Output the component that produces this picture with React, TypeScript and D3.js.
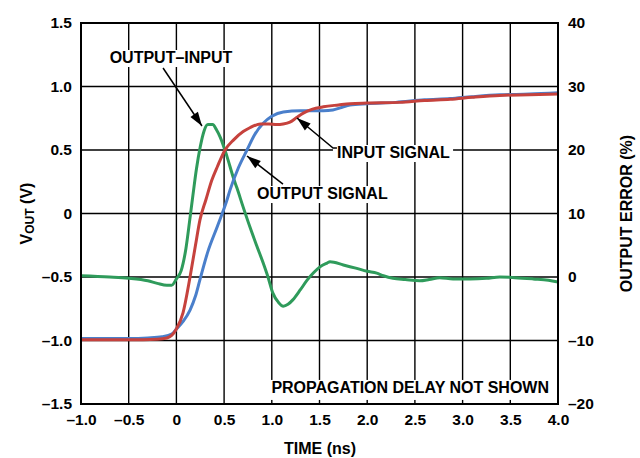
import React, { useEffect, useRef } from "react";
import * as d3 from "d3";

// axis ticks
const timeTicks = [-1.0, -0.5, 0, 0.5, 1.0, 1.5, 2.0, 2.5, 3.0, 3.5, 4.0];
const voltTicks = [-1.5, -1.0, -0.5, 0, 0.5, 1.0, 1.5];
const errorTicks = [-20, -10, 0, 10, 20, 30, 40];

// input signal (V)
const inputTime = [
  -1.0, -0.5, -0.2, -0.1, -0.05, 0, 0.07, 0.143, 0.2, 0.247, 0.31, 0.37, 0.43,
  0.51, 0.6, 0.7, 0.77, 0.88, 0.97, 1.05, 1.12, 1.19, 1.26, 1.33, 1.42, 1.54,
  1.7, 1.82, 2.0, 2.34, 2.6, 2.87, 3.1, 3.39, 3.7, 4.0,
];
const inputVolt = [
  -0.995, -0.995, -0.99, -0.98, -0.96, -0.91, -0.78, -0.5, -0.25, -0.05, 0.11,
  0.26, 0.37, 0.5, 0.58, 0.645, 0.675, 0.705, 0.705, 0.7, 0.705, 0.72, 0.755,
  0.79, 0.82, 0.84, 0.855, 0.865, 0.87, 0.875, 0.89, 0.9, 0.915, 0.93, 0.935,
  0.94,
];

// output signal (V)
const outputTime = [
  -1.0, -0.5, -0.3, -0.15, -0.05, 0, 0.07, 0.143, 0.2, 0.247, 0.33, 0.43, 0.53,
  0.56, 0.65, 0.74, 0.82, 0.91, 1.0, 1.12, 1.3, 1.54, 1.64, 1.73, 1.82, 2.0,
  2.3, 2.6, 2.87, 3.1, 3.39, 3.7, 4.0,
];
const outputVolt = [
  -0.985, -0.985, -0.98, -0.97, -0.95, -0.91, -0.85, -0.76, -0.65, -0.52, -0.3,
  -0.1, 0.106, 0.18, 0.36, 0.5, 0.62, 0.71, 0.765, 0.8, 0.81, 0.81, 0.815,
  0.835, 0.855, 0.865, 0.875, 0.895, 0.905, 0.92, 0.935, 0.94, 0.95,
];

// output - input (%), right axis
const errorTime = [
  -1.0, -0.7, -0.5, -0.3, -0.2, -0.1, -0.05, 0, 0.05, 0.1, 0.14, 0.17, 0.21,
  0.25, 0.29, 0.33, 0.38, 0.42, 0.46, 0.53, 0.6, 0.635, 0.7, 0.77, 0.84, 0.91,
  0.96, 1.01, 1.07, 1.12, 1.17, 1.22, 1.3, 1.37, 1.44, 1.505, 1.58, 1.61, 1.75,
  1.88, 2.0, 2.1, 2.17, 2.27, 2.4, 2.55, 2.65, 2.76, 2.9, 3.08, 3.25, 3.39,
  3.55, 3.74, 3.9, 4.0,
];
const errorPct = [
  0.2, 0.0, -0.2, -0.6, -1.0, -1.3, -1.3, -0.3, 1.0, 4.5, 9, 12.5, 17, 20.5, 23,
  24, 24, 23.2, 22, 19, 15.5, 14, 11, 7.9, 5, 2.2, 0, -2.5, -4, -4.6, -4.3,
  -3.6, -2, -0.5, 0.7, 1.6, 2.2, 2.4, 1.9, 1.4, 0.9, 0.6, 0.2, -0.2, -0.4,
  -0.6, -0.4, -0.1, -0.3, -0.3, -0.2, 0, -0.1, -0.3, -0.5, -0.8,
];

const FONT = "'Liberation Sans', Arial, Helvetica, sans-serif";
const dash = (d: number) =>
  d === 0 ? "0" : d3.format(".1f")(d).replace(/[-\u2212]/, "–");

export default function App() {
  const svgRef = useRef<SVGSVGElement>(null);

  useEffect(() => {
    const svg = d3.select(svgRef.current);
    svg.selectAll("*").remove();

    const left = 81,
      right = 558,
      top = 23,
      bottom = 404;

    const x = d3.scaleLinear().domain([-1, 4]).range([left, right]);
    const y = d3.scaleLinear().domain([-1.5, 1.5]).range([bottom, top]);
    const yErr = d3.scaleLinear().domain([-20, 40]).range([bottom, top]);

    svg
      .attr("font-family", FONT)
      .attr("font-weight", "bold")
      .attr("fill", "#000");

    const defs = svg.append("defs");
    defs
      .append("marker")
      .attr("id", "head")
      .attr("markerUnits", "userSpaceOnUse")
      .attr("viewBox", "-15 -5 16 10")
      .attr("refX", 0)
      .attr("refY", 0)
      .attr("markerWidth", 16)
      .attr("markerHeight", 10)
      .attr("orient", "auto")
      .append("path")
      .attr("d", "M0,0L-14,-4.5L-14,4.5Z")
      .attr("fill", "#000");

    // grid
    const grid = svg.append("g").attr("stroke", "#000").attr("stroke-width", 1.4);
    grid
      .selectAll("line.v")
      .data(timeTicks.slice(1, -1))
      .join("line")
      .attr("x1", (d) => x(d))
      .attr("x2", (d) => x(d))
      .attr("y1", top)
      .attr("y2", bottom);
    grid
      .selectAll("line.h")
      .data(voltTicks.slice(1, -1))
      .join("line")
      .attr("x1", left)
      .attr("x2", right)
      .attr("y1", (d) => y(d))
      .attr("y2", (d) => y(d));

    // traces
    const trace = (ts: number[], vs: number[], sy: any, color: string) => {
      const line = d3
        .line<number>()
        .x((_, i) => x(ts[i]))
        .y((d) => sy(d))
        .curve(d3.curveMonotoneX);
      svg
        .append("path")
        .attr("d", line(vs))
        .attr("fill", "none")
        .attr("stroke", color)
        .attr("stroke-width", 3)
        .attr("stroke-linejoin", "round");
    };
    trace(errorTime, errorPct, yErr, "#2f9b5b");
    trace(outputTime, outputVolt, y, "#4a7fcb");
    trace(inputTime, inputVolt, y, "#c6423d");

    // labels with white backing
    const label = (
      text: string,
      t: number,
      v: number,
      anchor: string,
      extendRight = false,
    ) => {
      const g = svg.append("g");
      const rect = g.append("rect").attr("fill", "#fff");
      const txt = g
        .append("text")
        .attr("x", x(t))
        .attr("y", y(v))
        .attr("text-anchor", anchor)
        .attr("font-size", 16)
        .text(text);
      const b = (txt.node() as SVGTextElement).getBBox();
      const x0 = b.x - 4;
      const x1 = extendRight ? right : b.x + b.width + 3;
      rect
        .attr("x", x0)
        .attr("y", b.y + 1)
        .attr("width", x1 - x0)
        .attr("height", b.height + (extendRight ? 3 : 0));
    };
    label("OUTPUT–INPUT", -0.057, 1.185, "middle");
    label("OUTPUT SIGNAL", 0.845, 0.114, "start");
    label("INPUT SIGNAL", 1.683, 0.437, "start");
    label("PROPAGATION DELAY NOT SHOWN", 3.906, -1.413, "end", true);

    // arrows
    const arrows: [number, number][][] = [
      [
        [-0.14, 1.146],
        [0.268, 0.689],
      ],
      [
        [1.117, 0.232],
        [0.74, 0.453],
      ],
      [
        [1.683, 0.516],
        [1.642, 0.516],
        [1.264, 0.752],
      ],
    ];
    arrows.forEach((pts) => {
      svg
        .append("path")
        .attr("d", d3.line()(pts.map(([t, v]) => [x(t), y(v)])))
        .attr("fill", "none")
        .attr("stroke", "#000")
        .attr("stroke-width", 1.5)
        .attr("marker-end", "url(#head)");
    });

    // frame
    svg
      .append("rect")
      .attr("x", left)
      .attr("y", top)
      .attr("width", right - left)
      .attr("height", bottom - top)
      .attr("fill", "none")
      .attr("stroke", "#000")
      .attr("stroke-width", 2);

    // axes
    const styleAxis = (g: any) => {
      g.select(".domain").remove();
      g.selectAll("text")
        .attr("font-family", FONT)
        .attr("font-weight", "bold")
        .attr("font-size", 15.5)
        .attr("fill", "#000");
    };
    svg
      .append("g")
      .attr("transform", `translate(0,${bottom})`)
      .call(
        d3.axisBottom(x).tickValues(timeTicks).tickSize(0).tickPadding(10).tickFormat(dash),
      )
      .call(styleAxis);
    svg
      .append("g")
      .attr("transform", `translate(${left},0)`)
      .call(
        d3.axisLeft(y).tickValues(voltTicks).tickSize(0).tickPadding(9).tickFormat(dash),
      )
      .call(styleAxis);
    svg
      .append("g")
      .attr("transform", `translate(${right},0)`)
      .call(
        d3
          .axisRight(yErr)
          .tickValues(errorTicks)
          .tickSize(0)
          .tickPadding(10)
          .tickFormat((d: any) => (d < 0 ? "–" + Math.abs(d) : String(d))),
      )
      .call(styleAxis);

    // axis titles
    svg
      .append("text")
      .attr("x", (left + right) / 2 + 0.5)
      .attr("y", 454)
      .attr("text-anchor", "middle")
      .attr("font-size", 16)
      .text("TIME (ns)");

    const yt = svg
      .append("text")
      .attr("transform", `translate(32,${(top + bottom) / 2}) rotate(-90)`)
      .attr("text-anchor", "middle")
      .attr("font-size", 16);
    yt.append("tspan").text("V");
    yt.append("tspan").attr("font-size", 12).attr("dy", 1.5).text("OUT");
    yt.append("tspan").attr("dy", -1.5).text(" (V)");

    svg
      .append("text")
      .attr("transform", `translate(632,${(top + bottom) / 2}) rotate(-90)`)
      .attr("text-anchor", "middle")
      .attr("font-size", 16)
      .text("OUTPUT ERROR (%)");
  }, []);

  return (
    <svg
      ref={svgRef}
      width={640}
      height={458}
      style={{ position: "absolute", left: 0, top: 0, background: "#fff" }}
    />
  );
}
